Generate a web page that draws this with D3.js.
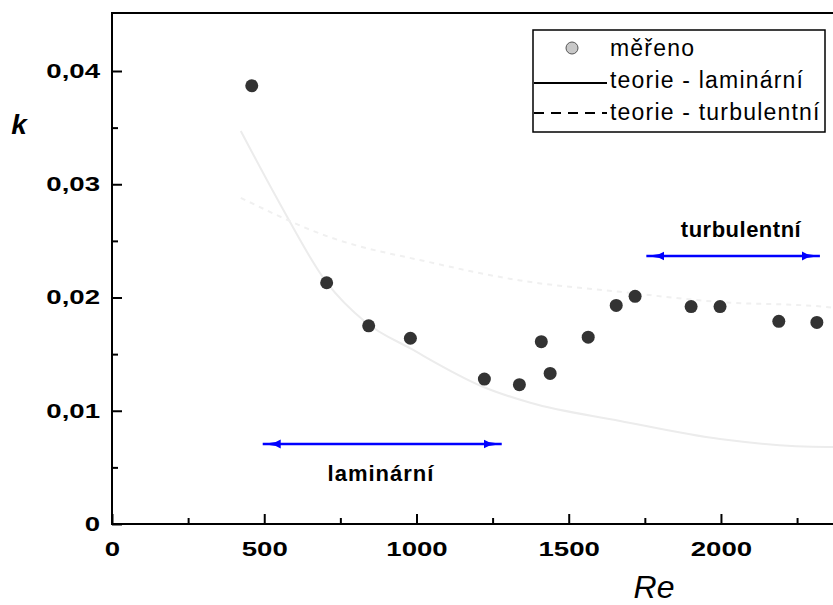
<!DOCTYPE html>
<html>
<head>
<meta charset="utf-8">
<script src="https://cdn.jsdelivr.net/npm/d3@7"></script>
<style>
  body { margin: 0; background: #fff; }
  svg { display: block; font-family: Arial, "Liberation Sans", sans-serif; }
</style>
</head>
<body>
<div id="graf"></div>
<script>
// namerene body
let reMereno = [459, 705, 843, 980, 1223, 1338, 1410, 1439, 1564, 1656, 1718, 1902, 1997, 2190, 2315]
let kMereno = [0.0387, 0.0213, 0.0175, 0.0164, 0.0128, 0.0123, 0.0161, 0.0133, 0.0165, 0.0193, 0.0201, 0.0192, 0.0192, 0.0179, 0.0178]

// teorie - laminarni
let reLam = [423, 551, 703, 834, 980, 1220, 1374, 1669, 1997, 2348, 2368]
let kLam = [0.0347, 0.0283, 0.0214, 0.0178, 0.0155, 0.0121, 0.0107, 0.0091, 0.0075, 0.0068, 0.0068]

// teorie - turbulentni
let reTurb = [423, 718, 1046, 1341, 1669, 1997, 2334, 2368]
let kTurb = [0.0288, 0.0253, 0.0231, 0.0215, 0.0205, 0.0196, 0.0192, 0.0191]

let xTicks = [0, 500, 1000, 1500, 2000]
let xMinor = [250, 750, 1250, 1750, 2250]
let yTicks = [0, 0.01, 0.02, 0.03, 0.04]
let yMinor = [0.005, 0.015, 0.025, 0.035]

let legendTexts = ["měřeno", "teorie - laminární", "teorie - turbulentní"]

let width = 833
let height = 605

const xScale = d3.scaleLinear().domain([0, 2368]).range([112, 833])
const yScale = d3.scaleLinear().domain([0, 0.04]).range([524, 71])

const loc = d3.formatLocale({decimal: ",", thousands: "", grouping: [3], currency: ["", ""]})
const fmtY = d => d === 0 ? "0" : loc.format(".2f")(d)

const svg = d3.select("#graf").append("svg")
    .attr("width", width)
    .attr("height", height)

svg.append("defs").append("marker")
    .attr("id", "sipka")
    .attr("viewBox", "0 0 18 10")
    .attr("refX", 18).attr("refY", 5)
    .attr("markerWidth", 18).attr("markerHeight", 10)
    .attr("markerUnits", "userSpaceOnUse")
    .attr("orient", "auto-start-reverse")
    .append("path")
    .attr("d", "M0,0.5 L5,3 L18,5 L5,7 L0,9.5 Z")
    .attr("fill", "#0000ff")

// krivky teorie (velmi svetle)
const line = d3.line()
    .x(d => xScale(d[0]))
    .y(d => yScale(d[1]))
    .curve(d3.curveMonotoneX)

svg.append("path")
    .datum(reLam.map((r, i) => [r, kLam[i]]))
    .attr("d", line)
    .attr("fill", "none")
    .attr("stroke", "#ececec")
    .attr("stroke-width", 2)

svg.append("path")
    .datum(reTurb.map((r, i) => [r, kTurb[i]]))
    .attr("d", line)
    .attr("fill", "none")
    .attr("stroke", "#f0f0f0")
    .attr("stroke-width", 2)
    .attr("stroke-dasharray", "5,5")

// osy
const xAxis = d3.axisBottom(xScale).tickValues(xTicks).tickSize(-10).tickPadding(18).tickFormat(d3.format("d"))
const xAxisMinor = d3.axisBottom(xScale).tickValues(xMinor).tickSize(-6).tickFormat("")
const yAxis = d3.axisLeft(yScale).tickValues(yTicks).tickSize(-10).tickPadding(12).tickFormat(fmtY)
const yAxisMinor = d3.axisLeft(yScale).tickValues(yMinor).tickSize(-6).tickFormat("")

function styleAxis(g) {
    g.select(".domain").remove()
    g.selectAll("line").attr("stroke", "#000").attr("stroke-width", 2)
    g.selectAll("text")
        .attr("font-family", "Arial, 'Liberation Sans', sans-serif")
        .attr("font-size", 20)
        .attr("font-weight", "bold")
        .attr("fill", "#000")
}

// siroke cislice jako v originale
const gx = svg.append("g").attr("transform", "translate(0,524)").call(xAxis).call(styleAxis)
gx.selectAll(".tick text")
    .attr("y", 0)
    .attr("transform", "translate(0,18) scale(1.38,1)")

svg.append("g").attr("transform", "translate(0,524)").call(xAxisMinor).call(styleAxis)

const gy = svg.append("g").attr("transform", "translate(112,0)").call(yAxis).call(styleAxis)
gy.selectAll(".tick text")
    .attr("x", 0)
    .attr("transform", "translate(-12,0) scale(1.38,1)")

svg.append("g").attr("transform", "translate(112,0)").call(yAxisMinor).call(styleAxis)

// ramecek
svg.append("path")
    .attr("d", "M833,13 H112 V524 H833")
    .attr("fill", "none")
    .attr("stroke", "#000")
    .attr("stroke-width", 2)

// namerene body
svg.selectAll("circle.bod")
    .data(reMereno.map((r, i) => [r, kMereno[i]]))
    .enter()
    .append("circle")
    .attr("class", "bod")
    .attr("cx", d => xScale(d[0]))
    .attr("cy", d => yScale(d[1]))
    .attr("r", 6.5)
    .attr("fill", "#333")

// sipky oblasti
svg.append("line")
    .attr("x1", xScale(495)).attr("x2", xScale(1280))
    .attr("y1", 444).attr("y2", 444)
    .attr("stroke", "#0000ff").attr("stroke-width", 2.5)
    .attr("marker-start", "url(#sipka)").attr("marker-end", "url(#sipka)")

svg.append("text")
    .attr("x", 381).attr("y", 481)
    .attr("text-anchor", "middle")
    .attr("font-size", 22).attr("font-weight", "bold")
    .attr("letter-spacing", 1)
    .text("laminární")

svg.append("line")
    .attr("x1", xScale(1755)).attr("x2", xScale(2325))
    .attr("y1", 256).attr("y2", 256)
    .attr("stroke", "#0000ff").attr("stroke-width", 2.5)
    .attr("marker-start", "url(#sipka)").attr("marker-end", "url(#sipka)")

svg.append("text")
    .attr("x", 741).attr("y", 237)
    .attr("text-anchor", "middle")
    .attr("font-size", 22).attr("font-weight", "bold")
    .attr("letter-spacing", 0.5)
    .text("turbulentní")

// popisky os
svg.append("text")
    .attr("x", 19).attr("y", 134)
    .attr("text-anchor", "middle")
    .attr("font-size", 28).attr("font-weight", "bold").attr("font-style", "italic")
    .text("k")

svg.append("text")
    .attr("x", 654).attr("y", 598)
    .attr("text-anchor", "middle")
    .attr("font-size", 32).attr("font-style", "italic")
    .text("Re")

// legenda
const leg = svg.append("g")
leg.append("rect")
    .attr("x", 533).attr("y", 30)
    .attr("width", 292).attr("height", 102)
    .attr("fill", "#fff").attr("stroke", "#000").attr("stroke-width", 1.5)

leg.append("circle")
    .attr("cx", 572).attr("cy", 48).attr("r", 6)
    .attr("fill", "#c8c8c8").attr("stroke", "#555").attr("stroke-width", 1)

leg.append("line")
    .attr("x1", 534).attr("x2", 607).attr("y1", 83).attr("y2", 83)
    .attr("stroke", "#000").attr("stroke-width", 2)

leg.append("line")
    .attr("x1", 534).attr("x2", 607).attr("y1", 113).attr("y2", 113)
    .attr("stroke", "#000").attr("stroke-width", 2)
    .attr("stroke-dasharray", "10,7")

leg.selectAll("text.leg")
    .data(legendTexts)
    .enter()
    .append("text")
    .attr("class", "leg")
    .attr("x", 610)
    .attr("y", (d, i) => 56 + i * 32)
    .attr("font-size", 23)
    .attr("letter-spacing", 1.2)
    .text(d => d)
</script>
</body>
</html>
